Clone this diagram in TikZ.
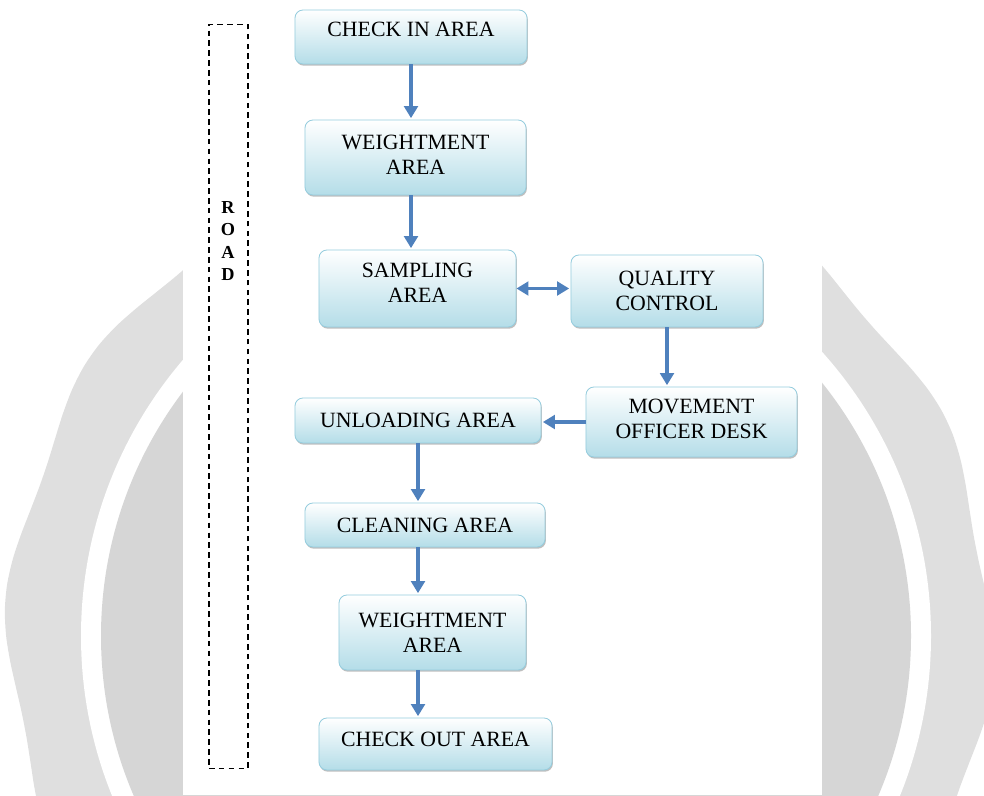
\documentclass[tikz,border=0pt]{standalone}
\usepackage{fontspec}
\setmainfont{Liberation Serif}
\usetikzlibrary{arrows.meta,shadows}
\definecolor{flowblue}{RGB}{79,129,189}
\definecolor{boxblue}{RGB}{180,221,232}
\definecolor{boxline}{RGB}{150,205,222}
\definecolor{wmlight}{RGB}{223,223,223}
\definecolor{wmdark}{RGB}{214,214,214}

\begin{document}
\begin{tikzpicture}[x=0.025cm, y=-0.025cm,
    area/.style={draw=boxline, line width=0.6pt, rounded corners=0.2cm,
        top color=white, bottom color=boxblue, align=center, inner sep=0pt,
        font=\fontsize{15.5}{17.8}\selectfont,
        drop shadow={shadow xshift=0.6pt, shadow yshift=-1.2pt, opacity=0.25, fill=black}},
    lift/.style={text depth=#1},
    flow/.style={flowblue, line width=2.6pt, shorten >=1pt,
        -{Triangle[width=0.34cm,length=0.3cm]}}]
    \useasboundingbox (0,0) rectangle (984,795);

    % Watermark seal behind the chart
    \fill[wmlight] plot[smooth cycle, samples=120, domain=0:357]
        ({500+(490+6*sin(12*\x+40))*cos(\x)}, {636+(490+6*sin(12*\x+40))*sin(\x)});
    \fill[white] (506,636) circle[radius=425];
    \fill[wmdark] (506,636) circle[radius=405];
    \fill[white] (183,0) rectangle (822,795);

    % Road
    \node[draw, dashed, dash pattern=on 4pt off 3pt, line width=0.8pt, inner sep=0pt,
        minimum width=0.975cm, minimum height=18.575cm] (road) at (228.5,396.5) {};
    \node[font=\bfseries\fontsize{13}{16.1}\selectfont, align=center] (roadtxt) at (228,241) {R\\O\\A\\D};

    % Areas
    \node[area, lift=0.4cm, minimum width=5.8cm, minimum height=1.35cm] (ci) at (411,37) {CHECK IN AREA};
    \node[area, lift=0.15cm, minimum width=5.525cm, minimum height=1.875cm] (wa) at (415.5,157.5) {WEIGHTMENT\\AREA};
    \node[area, lift=0.28cm, minimum width=4.925cm, minimum height=1.925cm] (sa) at (417.5,288.5) {SAMPLING\\AREA};
    \node[area, minimum width=4.8cm, minimum height=1.8cm] (qc) at (667,291) {QUALITY\\CONTROL};
    \node[area, lift=0.15cm, minimum width=5.275cm, minimum height=1.75cm] (md) at (691.5,422) {MOVEMENT\\OFFICER DESK};
    \node[area, minimum width=6.15cm, minimum height=1.125cm] (ua) at (418,420.5) {UNLOADING AREA};
    \node[area, minimum width=6cm, minimum height=1.1cm] (ca) at (425,525) {CLEANING AREA};
    \node[area, minimum width=4.675cm, minimum height=1.875cm] (wb) at (432.5,632.5) {WEIGHTMENT\\AREA};
    \node[area, lift=0.22cm, minimum width=5.825cm, minimum height=1.3cm] (co) at (435.5,744) {CHECK OUT AREA};

    % Flow
    \draw[flow] (ci.south) -- (ci.south |- wa.north);
    \draw[flow] (wa.south -| ci.south) -- (sa.north -| ci.south);
    \draw[flow, {Triangle[width=0.34cm,length=0.3cm]}-{Triangle[width=0.34cm,length=0.3cm]}]
        (sa.east) -- (sa.east -| qc.west);
    \draw[flow] (qc.south) -- (qc.south |- md.north);
    \draw[flow] (md.west) -- (md.west -| ua.east);
    \draw[flow] (ua.south) -- (ua.south |- ca.north);
    \draw[flow] (ca.south -| ua.south) -- (wb.north -| ua.south);
    \draw[flow] (wb.south -| ua.south) -- (co.north -| ua.south);

\end{tikzpicture}
\end{document}
